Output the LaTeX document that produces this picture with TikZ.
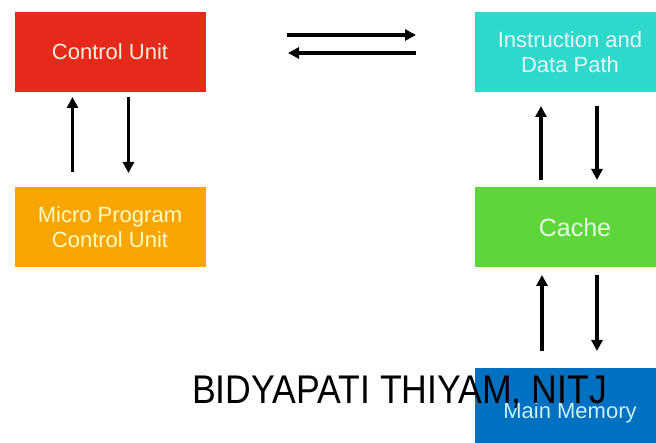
\documentclass[tikz,border=0pt]{standalone}
\usepackage{fontspec}
\setmainfont{Liberation Sans}
\usetikzlibrary{arrows.meta}
\definecolor{cured}{HTML}{E52A1B}
\definecolor{mporange}{HTML}{F9A602}
\definecolor{idcyan}{HTML}{2ED8CB}
\definecolor{cagreen}{HTML}{5DD53B}
\definecolor{mmblue}{HTML}{0070C0}
\tikzset{
  blk/.style={rectangle, inner sep=0pt, outer sep=0pt, align=center,
    font=\fontsize{22}{25}\selectfont},
  arr/.style={line width=3.8pt, -{Triangle[length=11pt,width=11pt]}},
}
\begin{document}
\begin{tikzpicture}[x=1pt,y=-1pt]
\useasboundingbox (0,0) rectangle (656,443);
\clip (0,0) rectangle (656,443);
\fill[white] (0,0) rectangle (656,443);
% boxes
\node[blk, fill=cured, text=white!85!orange, minimum width=191pt, minimum height=80pt] (cu) at (110,52) {Control Unit};
\node[blk, fill=mporange, text=white!75!yellow, minimum width=191pt, minimum height=80pt] (mp) at (110,227) {Micro Program\\Control Unit};
\node[blk, fill=idcyan, text=white!90!cyan, minimum width=190pt, minimum height=80pt] (id) at (570,52) {Instruction and\\Data Path};
\node[blk, fill=cagreen, minimum width=190pt, minimum height=80pt] (ca) at (570,227) {};
\node[font=\fontsize{25}{28}\selectfont, text=white!90!green, inner sep=0pt] (cat) at (575,228) {Cache};
\node[blk, fill=mmblue, minimum width=190pt, minimum height=80pt] (mm) at (570,408) {};
\node[font=\fontsize{22}{25}\selectfont, text=white!80!cyan, anchor=base, inner sep=0pt] (mmt) at (570,419) {Main Memory};
% arrows left
\draw[arr] ([xshift=58pt,yshift=15pt]mp.north west) -- ([xshift=58pt,yshift=-5pt]cu.south west);
\draw[arr] ([xshift=114pt,yshift=-5pt]cu.south west) -- ([xshift=114pt,yshift=14pt]mp.north west);
% horizontal arrows
\coordinate (ha1) at (287,35);
\coordinate (hb1) at (416,35);
\coordinate (ha2) at (416,53);
\coordinate (hb2) at (288,53);
\draw[arr] (ha1) -- (hb1);
\draw[arr] (ha2) -- (hb2);
% arrows right upper
\draw[arr] ([xshift=66pt,yshift=7pt]ca.north west) -- ([xshift=66pt,yshift=-14pt]id.south west);
\draw[arr] ([xshift=122pt,yshift=-14pt]id.south west) -- ([xshift=122pt,yshift=7pt]ca.north west);
% arrows right lower
\draw[arr] ([xshift=67pt,yshift=17pt]mm.north west) -- ([xshift=67pt,yshift=-8pt]ca.south west);
\draw[arr] ([xshift=122pt,yshift=-8pt]ca.south west) -- ([xshift=122pt,yshift=17pt]mm.north west);
% footer
\node[anchor=base west, inner sep=0pt, font=\fontsize{40}{44}\selectfont, xscale=0.89] (ft) at (192,404) {BIDYAPATI THIYAM, NITJ};
\end{tikzpicture}
\end{document}
